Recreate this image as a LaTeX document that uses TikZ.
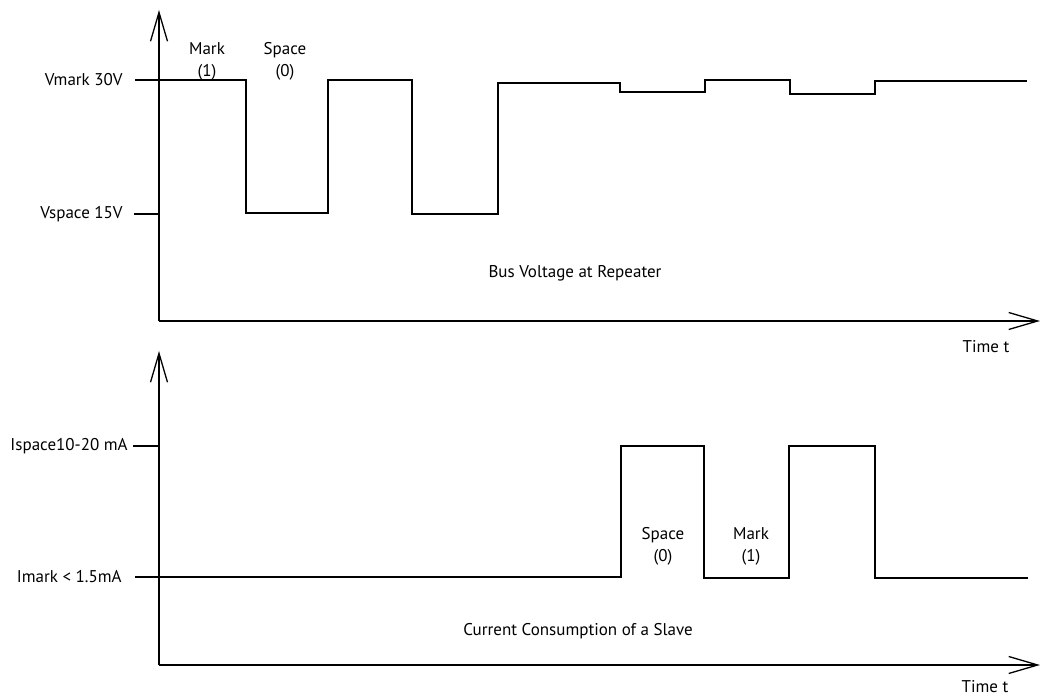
\documentclass[tikz,border=0pt]{standalone}
\usepackage{fontspec}
\setmainfont{PT Sans}
\usetikzlibrary{arrows.meta}

\tikzset{
  axis/.style={draw,line width=0.65pt,-{Straight Barb[length=14.5pt,width=8.5pt]}},
  wave/.style={draw,line width=0.65pt},
  lvl/.style={anchor=east,inner sep=0pt,font=\fontsize{8.5pt}{10pt}\selectfont},
  bit/.style={align=center,inner sep=0pt,font=\fontsize{8.5pt}{11pt}\selectfont},
  titletext/.style={inner sep=0pt,font=\fontsize{8.5pt}{10pt}\selectfont}}

\begin{document}
\begin{tikzpicture}[x=0.5pt,y=-0.5pt]
\useasboundingbox (0,0) rectangle (1041,695);

% bus voltage
\coordinate (o1) at (159,321);
\draw[axis] (o1) -- (159,10);
\draw[axis] (o1) -- (1040,321);
\node (vmark) at (123,80) [lvl] {Vmark 30V};
\node (vspace) at (123,214) [lvl] {Vspace 15V};
\draw[wave] (135,80) -- (159,80);
\draw[wave] (134,214) -- (159,214);
\draw[wave] (159,80) -| (246,213) -| (328,80) -| (412,214) -| (498,83)
  -| (620,92) -| (705,80) -| (790,94) -| (875,81) -- (1027,81);
\node (mark1) at (207,61) [bit] {Mark\\(1)};
\node (space1) at (285,61) [bit] {Space\\(0)};
\node (busv) at (575,273) [titletext] {Bus Voltage at Repeater};
\node (time1) at (986,347) [titletext] {Time t};

% slave current
\coordinate (o2) at (159,665);
\draw[axis] (o2) -- (159,351);
\draw[axis] (o2) -- (1040,665);
\node (ispace) at (128,446) [lvl] {Ispace10-20 mA};
\node (imark) at (122,577) [lvl] {Imark < 1.5mA};
\draw[wave] (133,446) -- (159,446);
\draw[wave] (135,577) -- (159,577);
\draw[wave] (159,577) -| (621,446) -| (704,578) -| (789,446) -| (875,578) -- (1028,578);
\node (space2) at (663,546) [bit] {Space\\(0)};
\node (mark2) at (751,546) [bit] {Mark\\(1)};
\node (curr) at (578,631) [titletext] {Current Consumption of a Slave};
\node (time2) at (985,687) [titletext] {Time t};
\end{tikzpicture}
\end{document}
